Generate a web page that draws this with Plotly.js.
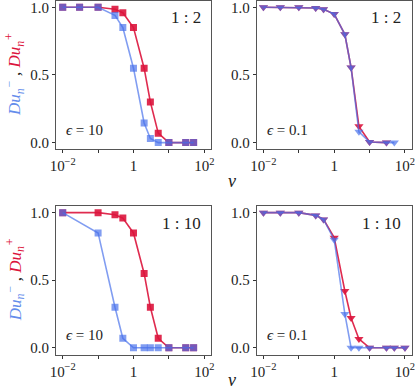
<!DOCTYPE html>
<html>
<head>
<meta charset="utf-8">
<script src="https://cdn.plot.ly/plotly-3.0.1.min.js"></script>
<style>
  html, body { margin: 0; padding: 0; background: #fff; }
  #chart { width: 415px; height: 390px; }
</style>
</head>
<body>
<div id="chart"></div>
<script>
// ---------- data ----------
// panel A : ratio 1:2, eps = 10
const vA = [0.01, 0.03, 0.1, 0.3, 0.5, 1, 2, 3, 5, 10, 30, 50];
const minusA = [1, 1, 1, 0.94, 0.85, 0.55, 0.145, 0.03, 0, 0, 0, 0];
const plusA = [1, 1, 1, 0.985, 0.96, 0.85, 0.55, 0.30, 0.07, 0, 0, 0];

// panel B : ratio 1:2, eps = 0.1
const vBminus = [0.01, 0.03, 0.1, 0.3, 0.5, 1, 2, 3, 5, 10, 30, 50];
const minusB = [1, 1, 1, 0.995, 0.985, 0.95, 0.80, 0.555, 0.08, 0.005, 0, 0];
const vBplus = [0.01, 0.03, 0.1, 0.3, 0.5, 1, 2, 3, 5, 10, 30];
const plusB = [1, 1, 1, 0.995, 0.985, 0.95, 0.80, 0.555, 0.12, 0.005, 0];

// panel C : ratio 1:10, eps = 10
const vC = [0.01, 0.1, 0.3, 0.5, 1, 2, 3, 5, 10, 30, 50];
const minusC = [1, 0.85, 0.30, 0.07, 0, 0, 0, 0, 0, 0, 0];
const plusC = [1, 1, 0.985, 0.96, 0.85, 0.55, 0.30, 0.07, 0, 0, 0];

// panel D : ratio 1:10, eps = 0.1
const vD = [0.01, 0.03, 0.1, 0.3, 0.5, 1, 2, 3, 5, 10, 30, 50, 100];
const minusD = [1, 1, 1, 0.98, 0.95, 0.80, 0.25, 0, 0, 0, 0, 0, 0];
const plusD = [1, 1, 1, 0.98, 0.95, 0.815, 0.42, 0.22, 0.065, 0, 0, 0, 0];

const ratioLabels = ["1 : 2", "1 : 2", "1 : 10", "1 : 10"];
const epsLabels = ["10", "0.1", "10", "0.1"];
const xTickVals = [0.01, 0.1, 1, 10, 100];
const xTickText = ["10<sup>−2</sup>", "", "1", "", "10<sup>2</sup>"];
const yTickVals = [0, 0.5, 1];
const yTickText = ["0.0", "0.5", "1.0"];

// ---------- styling ----------
const FONT = "'Liberation Serif', 'DejaVu Serif', serif";
const BLUE = "rgba(70,110,235,0.68)";
const RED = "rgba(220,20,60,0.9)";
const BLUE_TXT = "rgb(100,140,235)";
const RED_TXT = "rgb(220,20,60)";

function serie(x, y, color, symbol, size, ax) {
  return {
    x: x, y: y,
    xaxis: "x" + ax, yaxis: "y" + ax,
    mode: "lines+markers",
    line: { color: color, width: 1.6 },
    marker: { color: color, symbol: symbol, size: size, line: { width: 0 } },
    showlegend: false,
    hoverinfo: "x+y"
  };
}

const data = [
  serie(vA, plusA, RED, "square", 7, ""),
  serie(vA, minusA, BLUE, "square", 7, ""),
  serie(vBplus, plusB, RED, "triangle-down", 8, "2"),
  serie(vBminus, minusB, BLUE, "triangle-down", 8, "2"),
  serie(vC, plusC, RED, "square", 7, "3"),
  serie(vC, minusC, BLUE, "square", 7, "3"),
  serie(vD, plusD, RED, "triangle-down", 8, "4"),
  serie(vD, minusD, BLUE, "triangle-down", 8, "4")
];

// panel frames in paper coords
const xDomL = [0.1349, 0.5084];
const xDomR = [0.6186, 0.992];
const yDomT = [0.617, 0.9987];
const yDomB = [0.091, 0.472];

function xAxis(domain, anchor) {
  return {
    type: "log", range: [-2.19, 2.19], domain: domain, anchor: anchor,
    tickvals: xTickVals, ticktext: xTickText,
    ticks: "outside", ticklen: 3, tickwidth: 1, tickcolor: "#333",
    showline: true, linecolor: "#555", linewidth: 1, mirror: true,
    showgrid: false, zeroline: false, ticklabeloverflow: "allow",
    tickfont: { family: FONT, size: 15, color: "#222" }
  };
}
function yAxis(domain, anchor) {
  return {
    range: [-0.05, 1.05], domain: domain, anchor: anchor,
    tickvals: yTickVals, ticktext: yTickText,
    ticks: "outside", ticklen: 3, tickwidth: 1, tickcolor: "#333",
    showline: true, linecolor: "#555", linewidth: 1, mirror: true,
    showgrid: false, zeroline: false, ticklabeloverflow: "allow",
    tickfont: { family: FONT, size: 15, color: "#222" }
  };
}

const annotations = [];
const panels = [
  { xd: xDomL, yd: yDomT },
  { xd: xDomR, yd: yDomT },
  { xd: xDomL, yd: yDomB },
  { xd: xDomR, yd: yDomB }
];
panels.forEach((p, i) => {
  annotations.push({
    xref: "paper", yref: "paper", x: p.xd[1] - 0.02, y: p.yd[1] - 0.015,
    xanchor: "right", yanchor: "top", showarrow: false,
    text: ratioLabels[i], font: { family: FONT, size: 17, color: "#222" }
  });
  annotations.push({
    xref: "paper", yref: "paper", x: p.xd[0] + 0.02, y: p.yd[0] + 0.025,
    xanchor: "left", yanchor: "bottom", showarrow: false,
    text: "<i>ϵ</i> = " + epsLabels[i], font: { family: FONT, size: 15, color: "#222" }
  });
});

// y titles (left column) and x titles
const yTitle = "<i><span style='color:" + BLUE_TXT + "'>Du<sub>n</sub><sup>−</sup></span>" +
  "<span style='color:#222'> , </span>" +
  "<span style='color:" + RED_TXT + "'>Du<sub>n</sub><sup>+</sup></span></i>";
[yDomT, yDomB].forEach(yd => {
  annotations.push({
    xref: "paper", yref: "paper", x: 15 / 415, y: (yd[0] + yd[1]) / 2,
    xanchor: "center", yanchor: "middle", showarrow: false, textangle: -90,
    text: yTitle, font: { family: FONT, size: 17 }
  });
});
[181, 380].forEach(py => {
  annotations.push({
    xref: "paper", yref: "paper", x: 232 / 415, y: 1 - py / 390,
    xanchor: "center", yanchor: "middle", showarrow: false,
    text: "<i>v</i>", font: { family: FONT, size: 18, color: "#222" }
  });
});

const layout = {
  width: 415, height: 390,
  margin: { l: 0, r: 0, t: 0, b: 0 },
  paper_bgcolor: "white", plot_bgcolor: "white",
  xaxis: xAxis(xDomL, "y"), yaxis: yAxis(yDomT, "x"),
  xaxis2: xAxis(xDomR, "y2"), yaxis2: yAxis(yDomT, "x2"),
  xaxis3: xAxis(xDomL, "y3"), yaxis3: yAxis(yDomB, "x3"),
  xaxis4: xAxis(xDomR, "y4"), yaxis4: yAxis(yDomB, "x4"),
  annotations: annotations
};

Plotly.newPlot("chart", data, layout, { displayModeBar: false, staticPlot: true });
</script>
</body>
</html>
